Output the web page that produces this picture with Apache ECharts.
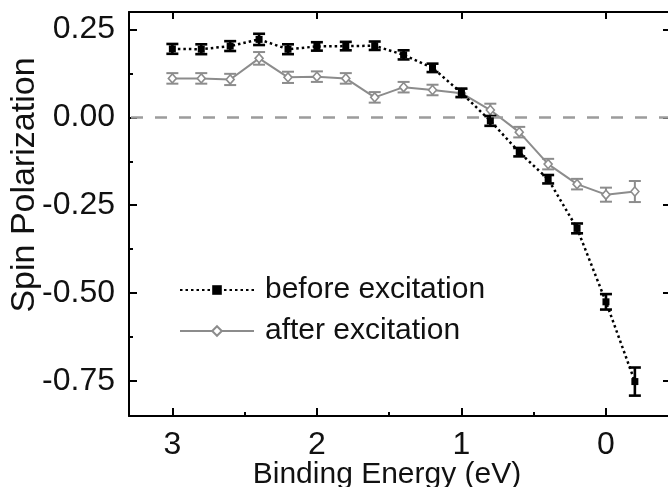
<!DOCTYPE html>
<html>
<head>
<meta charset="utf-8">
<script src="https://cdn.jsdelivr.net/npm/echarts@6/dist/echarts.min.js"></script>
<style>html,body{margin:0;padding:0;background:#fff}#c{width:668px;height:487px}</style>
</head>
<body>
<div id="c"></div>
<script>
// Binding energy (eV)
const energy = [3.0, 2.8, 2.6, 2.4, 2.2, 2.0, 1.8, 1.6, 1.4, 1.2, 1.0, 0.8, 0.6, 0.4, 0.2, 0.0, -0.2];
// Spin polarization before excitation
const before = [0.195, 0.194, 0.203, 0.222, 0.194, 0.202, 0.203, 0.204, 0.178, 0.141, 0.070, -0.010, -0.099, -0.176, -0.316, -0.525, -0.752];
const beforeErr = [0.014, 0.014, 0.014, 0.016, 0.014, 0.012, 0.012, 0.012, 0.013, 0.012, 0.012, 0.014, 0.012, 0.012, 0.014, 0.022, 0.040];
// Spin polarization after excitation
const after = [0.111, 0.111, 0.108, 0.168, 0.114, 0.116, 0.111, 0.057, 0.086, 0.078, 0.069, 0.021, -0.042, -0.133, -0.190, -0.220, -0.211];
const afterErr = [0.015, 0.015, 0.016, 0.018, 0.016, 0.015, 0.015, 0.015, 0.015, 0.015, 0.012, 0.018, 0.015, 0.015, 0.015, 0.020, 0.030];
// Tick values
const xMajor = [0, 1, 2, 3];
const xMinor = [0.5, 1.5, 2.5];
const yMajor = [-0.75, -0.5, -0.25, 0, 0.25];
const yMinor = [-0.625, -0.375, -0.125, 0.125];

const FONT = 'Liberation Sans';
const GRAY = '#8c8c8c';
const chart = echarts.init(document.getElementById('c'));

function errData(ys, es) {
  return energy.map((x, i) => [x, ys[i] - es[i], ys[i] + es[i]]);
}
function errRender(color, lw) {
  return function (params, api) {
    const x = api.value(0);
    const lo = api.coord([x, api.value(1)]);
    const hi = api.coord([x, api.value(2)]);
    const w = 6;
    const st = { stroke: color, lineWidth: lw };
    return {
      type: 'group',
      children: [
        { type: 'line', shape: { x1: lo[0], y1: lo[1], x2: hi[0], y2: hi[1] }, style: st },
        { type: 'line', shape: { x1: lo[0] - w, y1: lo[1], x2: lo[0] + w, y2: lo[1] }, style: st },
        { type: 'line', shape: { x1: hi[0] - w, y1: hi[1], x2: hi[0] + w, y2: hi[1] }, style: st }
      ]
    };
  };
}

const axLine = { show: true, onZero: false, lineStyle: { color: '#000', width: 2 } };
const noLine = { show: false, onZero: false };

chart.setOption({
  animation: false,
  backgroundColor: '#fff',
  grid: { left: 129, top: 12, width: 542, height: 404, containLabel: false, outerBoundsMode: 'none' },
  legend: {
    data: ['before excitation', 'after excitation'],
    orient: 'vertical',
    left: 174, top: 270,
    itemWidth: 74, itemHeight: 12, itemGap: 11,
    textStyle: { fontFamily: FONT, fontSize: 30, color: '#111', lineHeight: 30, padding: [0, 0, 0, 6] }
  },
  xAxis: [
    {
      type: 'value', position: 'bottom', inverse: true, min: -0.45, max: 3.3,
      axisLine: axLine,
      axisTick: { show: true, inside: true, length: 8, lineStyle: { color: '#000', width: 2 }, customValues: xMajor },
      axisLabel: { show: true, customValues: xMajor, fontFamily: FONT, fontSize: 32, color: '#111', margin: 13 },
      splitLine: { show: false },
      name: 'Binding Energy (eV)', nameLocation: 'middle', nameGap: 44, nameMoveOverlap: false,
      nameTextStyle: { fontFamily: FONT, fontSize: 30, color: '#111', padding: [0, 26, 0, 0] }
    },
    {
      type: 'value', position: 'bottom', inverse: true, min: -0.45, max: 3.3,
      axisLine: noLine,
      axisTick: { show: true, inside: true, length: 4, lineStyle: { color: '#000', width: 2 }, customValues: xMinor },
      axisLabel: { show: false }, splitLine: { show: false }
    },
    {
      type: 'value', position: 'top', inverse: true, min: -0.45, max: 3.3,
      axisLine: axLine,
      axisTick: { show: true, inside: true, length: 7, lineStyle: { color: '#000', width: 2 }, customValues: xMajor },
      axisLabel: { show: false }, splitLine: { show: false }
    }
  ],
  yAxis: [
    {
      type: 'value', position: 'left', min: -0.85, max: 0.3,
      axisLine: axLine,
      axisTick: { show: true, inside: true, length: 8, lineStyle: { color: '#000', width: 2 }, customValues: yMajor },
      axisLabel: { show: true, customValues: yMajor, fontFamily: FONT, fontSize: 32, color: '#111', margin: 14,
        formatter: v => Number(v).toFixed(2) },
      splitLine: { show: false },
      name: 'Spin Polarization', nameLocation: 'middle', nameGap: 87, nameRotate: 90, nameMoveOverlap: false,
      nameTextStyle: { fontFamily: FONT, fontSize: 34, color: '#111', padding: [0, 0, 0, 58] }
    },
    {
      type: 'value', position: 'left', min: -0.85, max: 0.3,
      axisLine: noLine,
      axisTick: { show: true, inside: true, length: 4, lineStyle: { color: '#000', width: 2 }, customValues: yMinor },
      axisLabel: { show: false }, splitLine: { show: false }
    },
    {
      type: 'value', position: 'right', min: -0.85, max: 0.3,
      axisLine: axLine,
      axisTick: { show: true, inside: true, length: 8, lineStyle: { color: '#000', width: 2 }, customValues: yMajor },
      axisLabel: { show: false }, splitLine: { show: false }
    }
  ],
  series: [
    {
      name: 'after excitation', type: 'line', xAxisIndex: 0, yAxisIndex: 0,
      data: energy.map((x, i) => [x, after[i]]),
      lineStyle: { color: GRAY, width: 2 },
      symbol: 'diamond', symbolSize: [8, 9],
      itemStyle: { color: '#fff', borderColor: GRAY, borderWidth: 1.6 },
      z: 3,
      markLine: {
        silent: true, symbol: ['none', 'none'], label: { show: false },
        lineStyle: { color: '#9c9c9c', width: 2.5, type: [12, 12] },
        data: [{ yAxis: 0 }]
      }
    },
    {
      name: 'after-err', type: 'custom', xAxisIndex: 0, yAxisIndex: 0,
      data: errData(after, afterErr), encode: { x: 0, y: [1, 2] },
      renderItem: errRender(GRAY, 2), z: 2
    },
    {
      name: 'before excitation', type: 'line', xAxisIndex: 0, yAxisIndex: 0,
      data: energy.map((x, i) => [x, before[i]]),
      lineStyle: { color: '#000', width: 2.5, type: [2.5, 3] },
      symbol: 'rect', symbolSize: 7,
      itemStyle: { color: '#000' },
      z: 5
    },
    {
      name: 'before-err', type: 'custom', xAxisIndex: 0, yAxisIndex: 0,
      data: errData(before, beforeErr), encode: { x: 0, y: [1, 2] },
      renderItem: errRender('#000', 2.6), z: 4
    }
  ]
});
</script>
</body>
</html>
